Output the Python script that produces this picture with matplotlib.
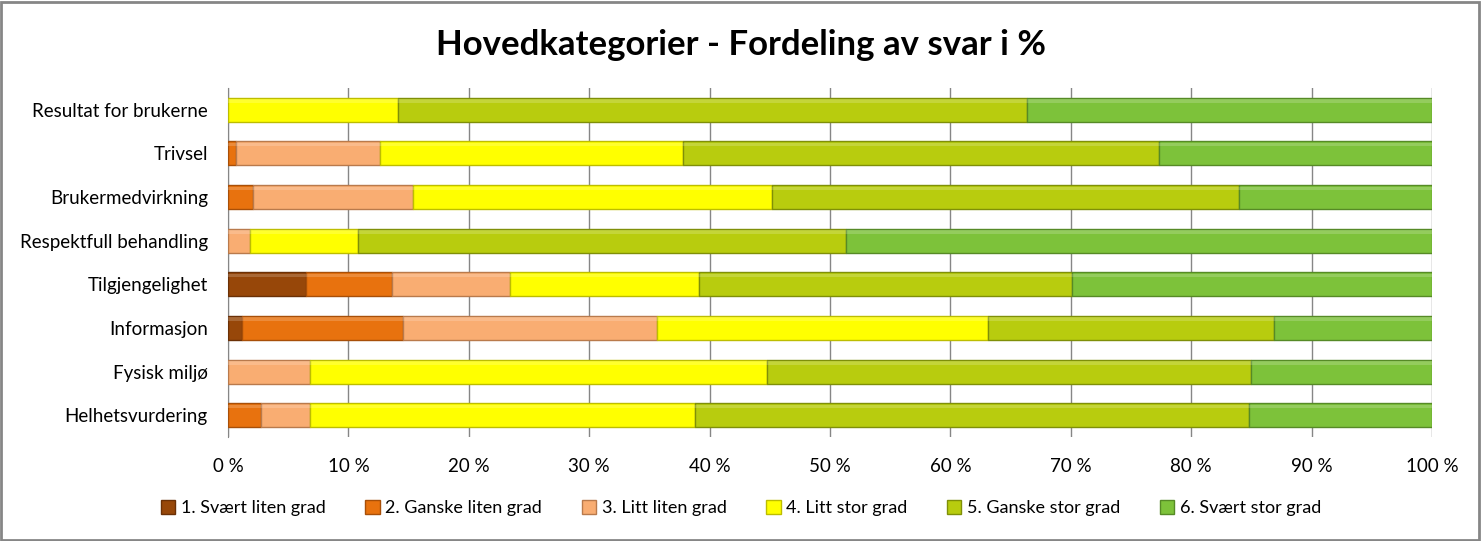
import numpy as np
import matplotlib
matplotlib.use('Agg')
import matplotlib.pyplot as plt
from matplotlib.patches import Rectangle

plt.rcParams['font.family'] = ['Lato', 'DejaVu Sans']

# ---- data (percent) ---------------------------------------------------------------
categories = ['Resultat for brukerne', 'Trivsel', 'Brukermedvirkning',
              'Respektfull behandling', 'Tilgjengelighet', 'Informasjon',
              'Fysisk miljø', 'Helhetsvurdering']
series_names = ['1. Svært liten grad', '2. Ganske liten grad', '3. Litt liten grad',
                '4. Litt stor grad', '5. Ganske stor grad', '6. Svært stor grad']
s1 = [0.0, 0.0, 0.0, 0.0, 6.5, 1.2, 0.0, 0.0]
s2 = [0.0, 0.7, 2.1, 0.0, 7.1, 13.3, 0.0, 2.7]
s3 = [0.0, 11.9, 13.3, 1.8, 9.8, 21.1, 6.8, 4.1]
s4 = [14.1, 25.2, 29.8, 9.0, 15.7, 27.5, 38.0, 32.0]
s5 = [52.3, 39.5, 38.8, 40.5, 31.0, 23.8, 40.2, 46.0]
s6 = [33.6, 22.7, 16.0, 48.7, 29.9, 13.1, 15.0, 15.2]
series = [s1, s2, s3, s4, s5, s6]
xticks = np.arange(0, 101, 10)

colors = ['#974709', '#e8720e', '#f9ad72', '#ffff00', '#b8cc0e', '#7dc23a']
edges = ['#6a3006', '#a84f08', '#b97a4c', '#bdbd00', '#7f8f08', '#568a26']

fig = plt.figure(figsize=(14.82, 5.41), dpi=100)
ax = fig.add_axes([228/1482, 1 - 437/541, 1204/1482, 349/541])

y = np.arange(len(categories))
left = np.zeros(len(categories))
for vals, c, ec, name in zip(series, colors, edges, series_names):
    vals = np.array(vals)
    ax.barh(y, vals, left=left, height=0.55, color=c, edgecolor=ec, lw=1.0,
            label=name, zorder=3)
    # light top highlight to hint at the bevel
    ax.barh(y - 0.2, vals, left=left, height=0.08, color='white', alpha=0.18,
            lw=0, zorder=4)
    left += vals

ax.set_xlim(0, 100)
ax.set_ylim(len(categories) - 0.5, -0.5)
ax.set_yticks(y)
ax.set_yticklabels(categories, fontsize=13.5)
ax.set_xticks(xticks)
ax.set_xticklabels([f'{v} %' for v in xticks], fontsize=13.5)
ax.tick_params(axis='y', length=0, pad=14.5)
ax.tick_params(axis='x', length=0, pad=15)
ax.grid(axis='x', color='#868686', lw=1.0, zorder=0)
for sp in ['top', 'right', 'bottom']:
    ax.spines[sp].set_visible(False)
ax.spines['left'].set_color('#868686')

fig.text(0.5, 1 - 45/541, 'Hovedkategorier - Fordeling av svar i %', ha='center',
         va='center', fontsize=25, fontweight='bold')
fig.legend(loc='center', bbox_to_anchor=(0.5, 1 - 508/541), ncol=6, frameon=False,
           fontsize=13, handlelength=0.8, handleheight=0.8, handletextpad=0.3,
           columnspacing=2.2)

fig.add_artist(Rectangle((0.001, 0.002), 0.997, 0.995, transform=fig.transFigure,
                         fill=False, ec='#868686', lw=2))
fig.savefig('out.png', dpi=100, facecolor='white')
